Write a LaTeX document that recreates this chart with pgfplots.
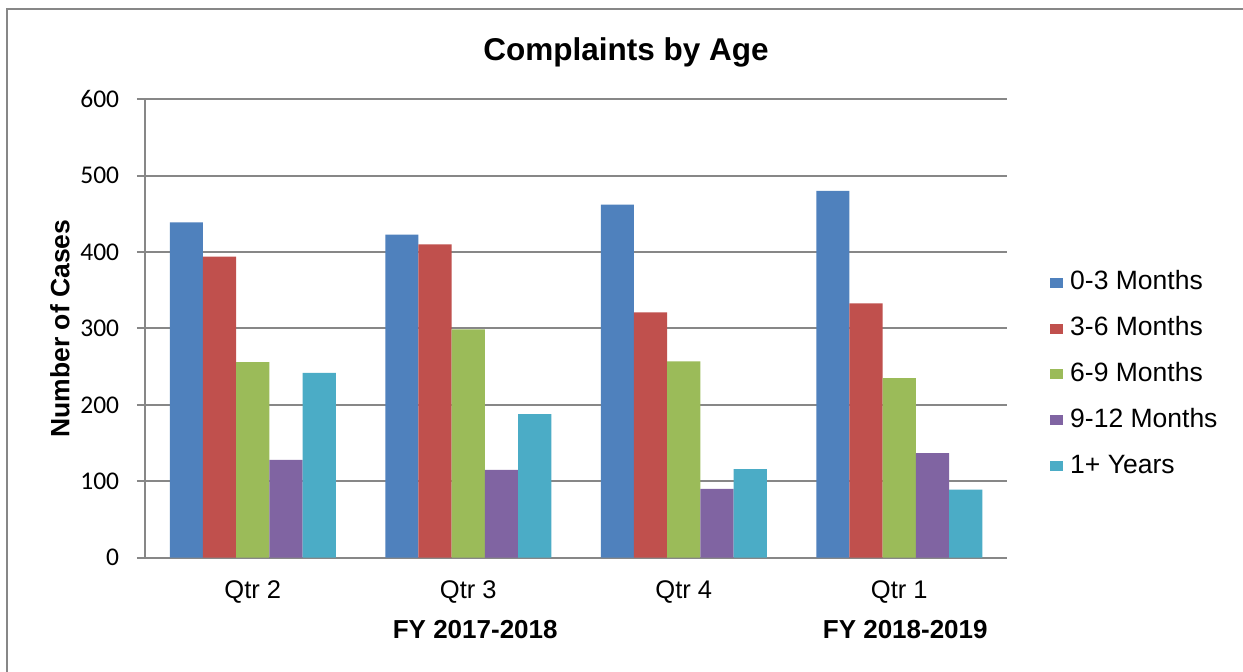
\documentclass[border=0pt]{standalone}
\usepackage{fontspec}
\setmainfont{Liberation Sans}
\newfontfamily\calib{Carlito}
\usepackage{pgfplots}
\pgfplotsset{compat=1.18}
\definecolor{cA}{HTML}{4F81BD}
\definecolor{cB}{HTML}{C0504D}
\definecolor{cC}{HTML}{9BBB59}
\definecolor{cD}{HTML}{8064A2}
\definecolor{cE}{HTML}{4BACC6}
\definecolor{gridc}{HTML}{878787}
\begin{document}
\begin{tikzpicture}[x=1bp,y=1bp]
\useasboundingbox (0,0) rectangle (1243,672);
\fill[white] (0,0) rectangle (1243,672);
\draw[gridc, line width=1.5bp] (7,0) -- (7,663) -- (1243,663);
\begin{axis}[
  at={(145bp,114.3bp)}, anchor=south west,
  scale only axis, width=862bp, height=458.4bp,
  xmin=-0.5, xmax=3.5, ymin=0, ymax=600,
  clip=false,
  ybar=0pt, bar width=33.2bp,
  xtick={0,1,2,3}, xticklabels={Qtr 2,Qtr 3,Qtr 4,Qtr 1},
  ytick={0,100,...,600},
  ymajorgrids, grid style={gridc, line width=2bp},
  axis x line*=bottom, axis y line*=left,
  axis line style={gridc, line width=2bp},
  tick align=outside, major tick length=8bp,
  ytick style={gridc, line width=2bp},
  xtick style={draw=none},
  /pgf/number format/assume math mode=true,
  yticklabel style={font=\calib\fontsize{25.5bp}{30bp}\selectfont, inner sep=0pt, anchor=east, xshift=-17.7bp},
  xticklabel style={font=\fontsize{25.5bp}{30bp}\selectfont, inner sep=0pt, anchor=north, yshift=-15bp},
  title={\textbf{Complaints by Age}},
  title style={font=\fontsize{31.5bp}{36bp}\selectfont, at={(axis description cs:0.558,1.090)}, anchor=center, inner sep=0pt},
  ylabel={\textbf{Number of Cases}},
  ylabel style={font=\fontsize{26.5bp}{30bp}\selectfont, at={(axis description cs:-0.0986,0.5)}, anchor=center, inner sep=0pt},
  legend style={at={(axis description cs:1.0499,0.4041)}, anchor=west, draw=none, fill=none, inner sep=0pt,
    font=\fontsize{26.5bp}{30bp}\selectfont, row sep=27.8bp, column sep=7bp,
    nodes={inner sep=0pt, text height=18bp, text depth=0bp}},
  legend cell align=left,
  legend image code/.code={\fill[#1, draw=none] (0bp,-7bp) rectangle (13bp,3bp);},
]
\addplot[fill=cA, draw=none] coordinates {(0,439) (1,423) (2,462) (3,480)};
\addplot[fill=cB, draw=none] coordinates {(0,394) (1,410) (2,321) (3,333)};
\addplot[fill=cC, draw=none] coordinates {(0,256) (1,299) (2,257) (3,235)};
\addplot[fill=cD, draw=none] coordinates {(0,128) (1,115) (2,90) (3,137)};
\addplot[fill=cE, draw=none] coordinates {(0,242) (1,188) (2,116) (3,89)};
\legend{0-3 Months,3-6 Months,6-9 Months,9-12 Months,1+ Years}
\node[font=\bfseries\fontsize{26bp}{30bp}\selectfont, anchor=center, inner sep=0pt] at (axis cs:1,0) [xshift=7bp, yshift=-72.3bp] {FY 2017-2018};
\node[font=\bfseries\fontsize{26bp}{30bp}\selectfont, anchor=center, inner sep=0pt] at (axis cs:3,0) [xshift=6bp, yshift=-72.3bp] {FY 2018-2019};
\end{axis}
\end{tikzpicture}
\end{document}
